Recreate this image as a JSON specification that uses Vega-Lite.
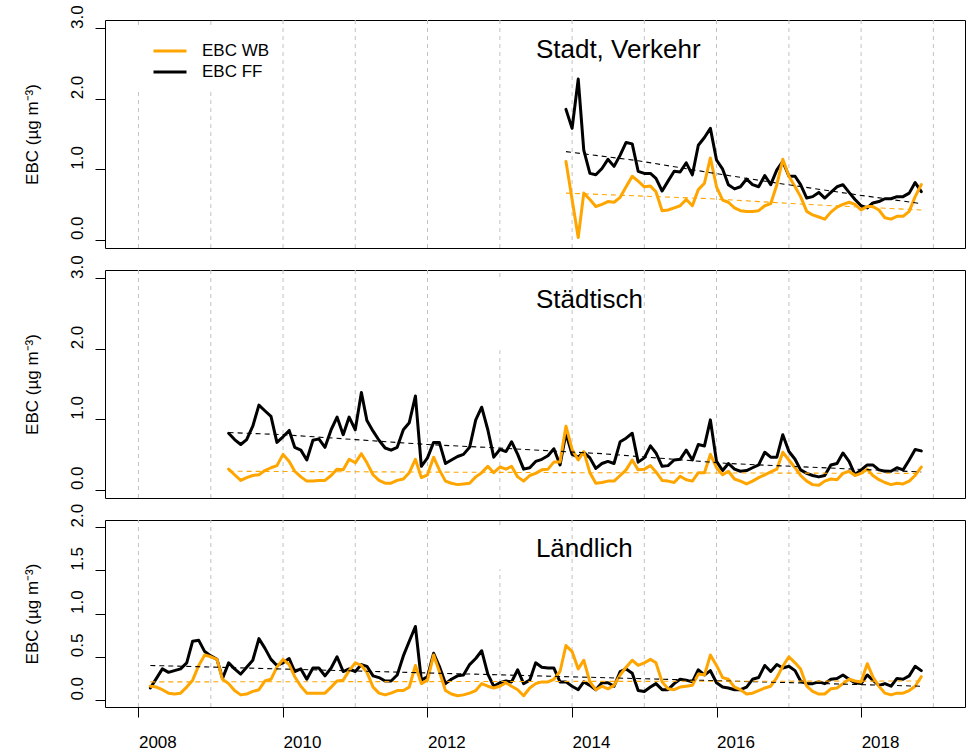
{
  "$schema": "https://vega.github.io/schema/vega-lite/v6.json",
  "background": "white",
  "padding": {"left": 22, "top": 4, "right": 2, "bottom": 2},
  "spacing": 22,
  "bounds": "flush",
  "config": {
    "font": "Liberation Sans",
    "view": {"stroke": "black", "strokeWidth": 1},
    "axis": {
      "grid": false,
      "domain": false,
      "tickColor": "black",
      "tickSize": 10,
      "tickWidth": 1,
      "labelFont": "Liberation Sans",
      "labelFontSize": 17,
      "labelColor": "black",
      "labelOverlap": false,
      "labelFlush": false,
      "titleFont": "Liberation Sans",
      "titleFontSize": 17,
      "titleFontWeight": "normal",
      "titleColor": "black"
    },
    "axisY": {
      "labelAngle": 270,
      "labelAlign": "left",
      "labelBaseline": "alphabetic",
      "labelPadding": 13,
      "titlePadding": 27
    },
    "axisX": {
      "labelAngle": 0,
      "labelAlign": "left",
      "labelBaseline": "alphabetic",
      "labelPadding": 30
    }
  },
  "datasets": {
    "p1": [
      {"t":"2013-12","ff":1.85,"wb":1.11},
      {"t":"2014-01","ff":1.58,"wb":0.57},
      {"t":"2014-02","ff":2.28,"wb":0.03},
      {"t":"2014-03","ff":1.27,"wb":0.66},
      {"t":"2014-04","ff":0.94,"wb":0.57},
      {"t":"2014-05","ff":0.92,"wb":0.47},
      {"t":"2014-06","ff":1.01,"wb":0.50},
      {"t":"2014-07","ff":1.14,"wb":0.54},
      {"t":"2014-08","ff":1.04,"wb":0.53},
      {"t":"2014-09","ff":1.20,"wb":0.60},
      {"t":"2014-10","ff":1.38,"wb":0.75},
      {"t":"2014-11","ff":1.36,"wb":0.90},
      {"t":"2014-12","ff":0.97,"wb":0.83},
      {"t":"2015-01","ff":0.94,"wb":0.75},
      {"t":"2015-02","ff":0.94,"wb":0.76},
      {"t":"2015-03","ff":0.87,"wb":0.68},
      {"t":"2015-04","ff":0.69,"wb":0.41},
      {"t":"2015-05","ff":0.83,"wb":0.42},
      {"t":"2015-06","ff":0.97,"wb":0.45},
      {"t":"2015-07","ff":0.96,"wb":0.48},
      {"t":"2015-08","ff":1.09,"wb":0.57},
      {"t":"2015-09","ff":0.92,"wb":0.48},
      {"t":"2015-10","ff":1.34,"wb":0.71},
      {"t":"2015-11","ff":1.45,"wb":0.80},
      {"t":"2015-12","ff":1.58,"wb":1.16},
      {"t":"2016-01","ff":1.13,"wb":0.75},
      {"t":"2016-02","ff":1.00,"wb":0.56},
      {"t":"2016-03","ff":0.78,"wb":0.53},
      {"t":"2016-04","ff":0.72,"wb":0.45},
      {"t":"2016-05","ff":0.75,"wb":0.41},
      {"t":"2016-06","ff":0.86,"wb":0.40},
      {"t":"2016-07","ff":0.78,"wb":0.40},
      {"t":"2016-08","ff":0.75,"wb":0.41},
      {"t":"2016-09","ff":0.91,"wb":0.48},
      {"t":"2016-10","ff":0.78,"wb":0.51},
      {"t":"2016-11","ff":0.99,"wb":0.78},
      {"t":"2016-12","ff":1.11,"wb":1.14},
      {"t":"2017-01","ff":0.90,"wb":0.90},
      {"t":"2017-02","ff":0.90,"wb":0.75},
      {"t":"2017-03","ff":0.78,"wb":0.61},
      {"t":"2017-04","ff":0.59,"wb":0.40},
      {"t":"2017-05","ff":0.61,"wb":0.35},
      {"t":"2017-06","ff":0.67,"wb":0.32},
      {"t":"2017-07","ff":0.59,"wb":0.29},
      {"t":"2017-08","ff":0.67,"wb":0.39},
      {"t":"2017-09","ff":0.75,"wb":0.46},
      {"t":"2017-10","ff":0.78,"wb":0.50},
      {"t":"2017-11","ff":0.67,"wb":0.53},
      {"t":"2017-12","ff":0.57,"wb":0.50},
      {"t":"2018-01","ff":0.48,"wb":0.42},
      {"t":"2018-02","ff":0.45,"wb":0.47},
      {"t":"2018-03","ff":0.52,"wb":0.47},
      {"t":"2018-04","ff":0.54,"wb":0.42},
      {"t":"2018-05","ff":0.58,"wb":0.31},
      {"t":"2018-06","ff":0.58,"wb":0.29},
      {"t":"2018-07","ff":0.61,"wb":0.33},
      {"t":"2018-08","ff":0.61,"wb":0.33},
      {"t":"2018-09","ff":0.66,"wb":0.40},
      {"t":"2018-10","ff":0.81,"wb":0.61},
      {"t":"2018-11","ff":0.68,"wb":0.78}
    ],
    "p2": [
      {"t":"2009-04","ff":0.80,"wb":0.29},
      {"t":"2009-05","ff":0.71,"wb":0.21},
      {"t":"2009-06","ff":0.64,"wb":0.13},
      {"t":"2009-07","ff":0.71,"wb":0.17},
      {"t":"2009-08","ff":0.90,"wb":0.20},
      {"t":"2009-09","ff":1.20,"wb":0.21},
      {"t":"2009-10","ff":1.12,"wb":0.27},
      {"t":"2009-11","ff":1.04,"wb":0.31},
      {"t":"2009-12","ff":0.67,"wb":0.34},
      {"t":"2010-01","ff":0.75,"wb":0.50},
      {"t":"2010-02","ff":0.84,"wb":0.40},
      {"t":"2010-03","ff":0.60,"wb":0.26},
      {"t":"2010-04","ff":0.56,"wb":0.18},
      {"t":"2010-05","ff":0.42,"wb":0.12},
      {"t":"2010-06","ff":0.70,"wb":0.12},
      {"t":"2010-07","ff":0.72,"wb":0.13},
      {"t":"2010-08","ff":0.60,"wb":0.13},
      {"t":"2010-09","ff":0.85,"wb":0.20},
      {"t":"2010-10","ff":1.03,"wb":0.29},
      {"t":"2010-11","ff":0.78,"wb":0.28},
      {"t":"2010-12","ff":1.03,"wb":0.43},
      {"t":"2011-01","ff":0.85,"wb":0.38},
      {"t":"2011-02","ff":1.38,"wb":0.51},
      {"t":"2011-03","ff":0.98,"wb":0.38},
      {"t":"2011-04","ff":0.83,"wb":0.21},
      {"t":"2011-05","ff":0.70,"wb":0.13},
      {"t":"2011-06","ff":0.59,"wb":0.09},
      {"t":"2011-07","ff":0.56,"wb":0.09},
      {"t":"2011-08","ff":0.60,"wb":0.13},
      {"t":"2011-09","ff":0.85,"wb":0.15},
      {"t":"2011-10","ff":0.95,"wb":0.24},
      {"t":"2011-11","ff":1.33,"wb":0.43},
      {"t":"2011-12","ff":0.33,"wb":0.17},
      {"t":"2012-01","ff":0.45,"wb":0.21},
      {"t":"2012-02","ff":0.67,"wb":0.46},
      {"t":"2012-03","ff":0.67,"wb":0.28},
      {"t":"2012-04","ff":0.37,"wb":0.12},
      {"t":"2012-05","ff":0.42,"wb":0.09},
      {"t":"2012-06","ff":0.47,"wb":0.07},
      {"t":"2012-07","ff":0.50,"wb":0.08},
      {"t":"2012-08","ff":0.60,"wb":0.09},
      {"t":"2012-09","ff":0.99,"wb":0.18},
      {"t":"2012-10","ff":1.17,"wb":0.24},
      {"t":"2012-11","ff":0.85,"wb":0.33},
      {"t":"2012-12","ff":0.46,"wb":0.24},
      {"t":"2013-01","ff":0.57,"wb":0.32},
      {"t":"2013-02","ff":0.54,"wb":0.29},
      {"t":"2013-03","ff":0.68,"wb":0.33},
      {"t":"2013-04","ff":0.50,"wb":0.18},
      {"t":"2013-05","ff":0.29,"wb":0.12},
      {"t":"2013-06","ff":0.31,"wb":0.20},
      {"t":"2013-07","ff":0.40,"wb":0.23},
      {"t":"2013-08","ff":0.43,"wb":0.28},
      {"t":"2013-09","ff":0.48,"wb":0.29},
      {"t":"2013-10","ff":0.58,"wb":0.39},
      {"t":"2013-11","ff":0.35,"wb":0.39},
      {"t":"2013-12","ff":0.80,"wb":0.90},
      {"t":"2014-01","ff":0.50,"wb":0.57},
      {"t":"2014-02","ff":0.46,"wb":0.42},
      {"t":"2014-03","ff":0.53,"wb":0.54},
      {"t":"2014-04","ff":0.45,"wb":0.24},
      {"t":"2014-05","ff":0.30,"wb":0.09},
      {"t":"2014-06","ff":0.37,"wb":0.10},
      {"t":"2014-07","ff":0.40,"wb":0.12},
      {"t":"2014-08","ff":0.37,"wb":0.12},
      {"t":"2014-09","ff":0.68,"wb":0.20},
      {"t":"2014-10","ff":0.73,"wb":0.28},
      {"t":"2014-11","ff":0.80,"wb":0.42},
      {"t":"2014-12","ff":0.39,"wb":0.28},
      {"t":"2015-01","ff":0.45,"wb":0.29},
      {"t":"2015-02","ff":0.62,"wb":0.34},
      {"t":"2015-03","ff":0.52,"wb":0.25},
      {"t":"2015-04","ff":0.33,"wb":0.13},
      {"t":"2015-05","ff":0.34,"wb":0.12},
      {"t":"2015-06","ff":0.42,"wb":0.10},
      {"t":"2015-07","ff":0.43,"wb":0.19},
      {"t":"2015-08","ff":0.56,"wb":0.14},
      {"t":"2015-09","ff":0.42,"wb":0.12},
      {"t":"2015-10","ff":0.64,"wb":0.24},
      {"t":"2015-11","ff":0.62,"wb":0.24},
      {"t":"2015-12","ff":0.99,"wb":0.50},
      {"t":"2016-01","ff":0.40,"wb":0.31},
      {"t":"2016-02","ff":0.27,"wb":0.21},
      {"t":"2016-03","ff":0.37,"wb":0.26},
      {"t":"2016-04","ff":0.29,"wb":0.15},
      {"t":"2016-05","ff":0.26,"wb":0.12},
      {"t":"2016-06","ff":0.27,"wb":0.08},
      {"t":"2016-07","ff":0.31,"wb":0.12},
      {"t":"2016-08","ff":0.35,"wb":0.17},
      {"t":"2016-09","ff":0.53,"wb":0.21},
      {"t":"2016-10","ff":0.46,"wb":0.25},
      {"t":"2016-11","ff":0.46,"wb":0.29},
      {"t":"2016-12","ff":0.78,"wb":0.53},
      {"t":"2017-01","ff":0.54,"wb":0.42},
      {"t":"2017-02","ff":0.43,"wb":0.31},
      {"t":"2017-03","ff":0.28,"wb":0.20},
      {"t":"2017-04","ff":0.23,"wb":0.12},
      {"t":"2017-05","ff":0.20,"wb":0.07},
      {"t":"2017-06","ff":0.18,"wb":0.06},
      {"t":"2017-07","ff":0.20,"wb":0.12},
      {"t":"2017-08","ff":0.35,"wb":0.15},
      {"t":"2017-09","ff":0.37,"wb":0.14},
      {"t":"2017-10","ff":0.52,"wb":0.23},
      {"t":"2017-11","ff":0.40,"wb":0.26},
      {"t":"2017-12","ff":0.21,"wb":0.20},
      {"t":"2018-01","ff":0.28,"wb":0.23},
      {"t":"2018-02","ff":0.35,"wb":0.29},
      {"t":"2018-03","ff":0.35,"wb":0.20},
      {"t":"2018-04","ff":0.28,"wb":0.14},
      {"t":"2018-05","ff":0.26,"wb":0.10},
      {"t":"2018-06","ff":0.26,"wb":0.07},
      {"t":"2018-07","ff":0.31,"wb":0.09},
      {"t":"2018-08","ff":0.28,"wb":0.08},
      {"t":"2018-09","ff":0.42,"wb":0.12},
      {"t":"2018-10","ff":0.57,"wb":0.20},
      {"t":"2018-11","ff":0.55,"wb":0.32}
    ],
    "p3": [
      {"t":"2008-03","ff":0.14,"wb":0.16},
      {"t":"2008-04","ff":0.25,"wb":0.15},
      {"t":"2008-05","ff":0.36,"wb":0.12},
      {"t":"2008-06","ff":0.32,"wb":0.08},
      {"t":"2008-07","ff":0.34,"wb":0.07},
      {"t":"2008-08","ff":0.36,"wb":0.08},
      {"t":"2008-09","ff":0.43,"wb":0.15},
      {"t":"2008-10","ff":0.68,"wb":0.23},
      {"t":"2008-11","ff":0.69,"wb":0.40},
      {"t":"2008-12","ff":0.56,"wb":0.52},
      {"t":"2009-01","ff":0.51,"wb":0.50},
      {"t":"2009-02","ff":0.47,"wb":0.47},
      {"t":"2009-03","ff":0.25,"wb":0.24},
      {"t":"2009-04","ff":0.43,"wb":0.19},
      {"t":"2009-05","ff":0.36,"wb":0.11},
      {"t":"2009-06","ff":0.30,"wb":0.06},
      {"t":"2009-07","ff":0.38,"wb":0.07},
      {"t":"2009-08","ff":0.46,"wb":0.10},
      {"t":"2009-09","ff":0.71,"wb":0.12},
      {"t":"2009-10","ff":0.60,"wb":0.22},
      {"t":"2009-11","ff":0.47,"wb":0.24},
      {"t":"2009-12","ff":0.40,"wb":0.38},
      {"t":"2010-01","ff":0.43,"wb":0.47},
      {"t":"2010-02","ff":0.48,"wb":0.41},
      {"t":"2010-03","ff":0.33,"wb":0.27},
      {"t":"2010-04","ff":0.36,"wb":0.16},
      {"t":"2010-05","ff":0.24,"wb":0.08},
      {"t":"2010-06","ff":0.37,"wb":0.08},
      {"t":"2010-07","ff":0.37,"wb":0.08},
      {"t":"2010-08","ff":0.28,"wb":0.08},
      {"t":"2010-09","ff":0.37,"wb":0.15},
      {"t":"2010-10","ff":0.50,"wb":0.22},
      {"t":"2010-11","ff":0.33,"wb":0.23},
      {"t":"2010-12","ff":0.36,"wb":0.34},
      {"t":"2011-01","ff":0.33,"wb":0.43},
      {"t":"2011-02","ff":0.41,"wb":0.40},
      {"t":"2011-03","ff":0.39,"wb":0.32},
      {"t":"2011-04","ff":0.28,"wb":0.15},
      {"t":"2011-05","ff":0.26,"wb":0.08},
      {"t":"2011-06","ff":0.22,"wb":0.06},
      {"t":"2011-07","ff":0.22,"wb":0.08},
      {"t":"2011-08","ff":0.29,"wb":0.11},
      {"t":"2011-09","ff":0.51,"wb":0.11},
      {"t":"2011-10","ff":0.68,"wb":0.15},
      {"t":"2011-11","ff":0.85,"wb":0.40},
      {"t":"2011-12","ff":0.23,"wb":0.19},
      {"t":"2012-01","ff":0.27,"wb":0.23},
      {"t":"2012-02","ff":0.54,"wb":0.52},
      {"t":"2012-03","ff":0.39,"wb":0.33},
      {"t":"2012-04","ff":0.19,"wb":0.11},
      {"t":"2012-05","ff":0.24,"wb":0.07},
      {"t":"2012-06","ff":0.28,"wb":0.05},
      {"t":"2012-07","ff":0.29,"wb":0.06},
      {"t":"2012-08","ff":0.41,"wb":0.08},
      {"t":"2012-09","ff":0.48,"wb":0.11},
      {"t":"2012-10","ff":0.57,"wb":0.19},
      {"t":"2012-11","ff":0.30,"wb":0.16},
      {"t":"2012-12","ff":0.16,"wb":0.14},
      {"t":"2013-01","ff":0.20,"wb":0.16},
      {"t":"2013-02","ff":0.22,"wb":0.20},
      {"t":"2013-03","ff":0.21,"wb":0.16},
      {"t":"2013-04","ff":0.35,"wb":0.12},
      {"t":"2013-05","ff":0.19,"wb":0.05},
      {"t":"2013-06","ff":0.23,"wb":0.14},
      {"t":"2013-07","ff":0.43,"wb":0.19},
      {"t":"2013-08","ff":0.38,"wb":0.21},
      {"t":"2013-09","ff":0.37,"wb":0.21},
      {"t":"2013-10","ff":0.37,"wb":0.24},
      {"t":"2013-11","ff":0.21,"wb":0.33},
      {"t":"2013-12","ff":0.21,"wb":0.63},
      {"t":"2014-01","ff":0.16,"wb":0.56},
      {"t":"2014-02","ff":0.12,"wb":0.36},
      {"t":"2014-03","ff":0.21,"wb":0.46},
      {"t":"2014-04","ff":0.17,"wb":0.21},
      {"t":"2014-05","ff":0.12,"wb":0.12},
      {"t":"2014-06","ff":0.20,"wb":0.16},
      {"t":"2014-07","ff":0.20,"wb":0.13},
      {"t":"2014-08","ff":0.16,"wb":0.17},
      {"t":"2014-09","ff":0.33,"wb":0.29},
      {"t":"2014-10","ff":0.36,"wb":0.38},
      {"t":"2014-11","ff":0.31,"wb":0.46},
      {"t":"2014-12","ff":0.11,"wb":0.40},
      {"t":"2015-01","ff":0.10,"wb":0.43},
      {"t":"2015-02","ff":0.15,"wb":0.47},
      {"t":"2015-03","ff":0.19,"wb":0.43},
      {"t":"2015-04","ff":0.12,"wb":0.21},
      {"t":"2015-05","ff":0.12,"wb":0.13},
      {"t":"2015-06","ff":0.19,"wb":0.12},
      {"t":"2015-07","ff":0.24,"wb":0.15},
      {"t":"2015-08","ff":0.23,"wb":0.16},
      {"t":"2015-09","ff":0.21,"wb":0.17},
      {"t":"2015-10","ff":0.35,"wb":0.30},
      {"t":"2015-11","ff":0.29,"wb":0.29},
      {"t":"2015-12","ff":0.34,"wb":0.52},
      {"t":"2016-01","ff":0.20,"wb":0.40},
      {"t":"2016-02","ff":0.15,"wb":0.26},
      {"t":"2016-03","ff":0.14,"wb":0.24},
      {"t":"2016-04","ff":0.12,"wb":0.15},
      {"t":"2016-05","ff":0.12,"wb":0.12},
      {"t":"2016-06","ff":0.15,"wb":0.07},
      {"t":"2016-07","ff":0.24,"wb":0.08},
      {"t":"2016-08","ff":0.26,"wb":0.11},
      {"t":"2016-09","ff":0.40,"wb":0.14},
      {"t":"2016-10","ff":0.33,"wb":0.16},
      {"t":"2016-11","ff":0.41,"wb":0.26},
      {"t":"2016-12","ff":0.37,"wb":0.39},
      {"t":"2017-01","ff":0.39,"wb":0.50},
      {"t":"2017-02","ff":0.34,"wb":0.43},
      {"t":"2017-03","ff":0.22,"wb":0.36},
      {"t":"2017-04","ff":0.19,"wb":0.16},
      {"t":"2017-05","ff":0.19,"wb":0.10},
      {"t":"2017-06","ff":0.21,"wb":0.07},
      {"t":"2017-07","ff":0.19,"wb":0.07},
      {"t":"2017-08","ff":0.24,"wb":0.13},
      {"t":"2017-09","ff":0.25,"wb":0.14},
      {"t":"2017-10","ff":0.29,"wb":0.19},
      {"t":"2017-11","ff":0.24,"wb":0.24},
      {"t":"2017-12","ff":0.20,"wb":0.22},
      {"t":"2018-01","ff":0.19,"wb":0.21},
      {"t":"2018-02","ff":0.29,"wb":0.42},
      {"t":"2018-03","ff":0.23,"wb":0.27},
      {"t":"2018-04","ff":0.17,"wb":0.16},
      {"t":"2018-05","ff":0.19,"wb":0.08},
      {"t":"2018-06","ff":0.16,"wb":0.06},
      {"t":"2018-07","ff":0.25,"wb":0.08},
      {"t":"2018-08","ff":0.24,"wb":0.08},
      {"t":"2018-09","ff":0.28,"wb":0.11},
      {"t":"2018-10","ff":0.39,"wb":0.16},
      {"t":"2018-11","ff":0.34,"wb":0.27}
    ],
    "trend": [
      {"p":1,"s":"ff","t":"2013-12","v":1.25},
      {"p":1,"s":"ff","t":"2014-12","v":1.12},
      {"p":1,"s":"ff","t":"2015-12","v":0.95},
      {"p":1,"s":"ff","t":"2016-12","v":0.79},
      {"p":1,"s":"ff","t":"2017-12","v":0.64},
      {"p":1,"s":"ff","t":"2018-11","v":0.51},
      {"p":1,"s":"wb","t":"2013-12","v":0.66},
      {"p":1,"s":"wb","t":"2015-12","v":0.58},
      {"p":1,"s":"wb","t":"2017-06","v":0.49},
      {"p":1,"s":"wb","t":"2018-11","v":0.42},
      {"p":2,"s":"ff","t":"2009-04","v":0.81},
      {"p":2,"s":"ff","t":"2010-01","v":0.78},
      {"p":2,"s":"ff","t":"2011-01","v":0.71},
      {"p":2,"s":"ff","t":"2012-01","v":0.64},
      {"p":2,"s":"ff","t":"2013-01","v":0.59},
      {"p":2,"s":"ff","t":"2014-06","v":0.51},
      {"p":2,"s":"ff","t":"2016-03","v":0.37},
      {"p":2,"s":"ff","t":"2017-12","v":0.29},
      {"p":2,"s":"ff","t":"2018-11","v":0.25},
      {"p":2,"s":"wb","t":"2009-04","v":0.26},
      {"p":2,"s":"wb","t":"2014-01","v":0.24},
      {"p":2,"s":"wb","t":"2018-11","v":0.23},
      {"p":3,"s":"ff","t":"2008-03","v":0.40},
      {"p":3,"s":"ff","t":"2018-11","v":0.16},
      {"p":3,"s":"wb","t":"2008-03","v":0.21},
      {"p":3,"s":"wb","t":"2018-11","v":0.22}
    ],
    "grid": [
      {"p":1,"t":"2008-01","lo":-0.12,"hi":2.13},
      {"p":1,"t":"2008-01","lo":3.05,"hi":3.12},
      {"p":1,"t":"2009-01","lo":-0.12,"hi":2.13},
      {"p":1,"t":"2009-01","lo":3.05,"hi":3.12},
      {"p":1,"t":"2010-01","lo":-0.12,"hi":3.12},
      {"p":1,"t":"2011-01","lo":-0.12,"hi":3.12},
      {"p":1,"t":"2012-01","lo":-0.12,"hi":3.12},
      {"p":1,"t":"2013-01","lo":-0.12,"hi":3.12},
      {"p":1,"t":"2014-01","lo":-0.12,"hi":3.12},
      {"p":1,"t":"2015-01","lo":-0.12,"hi":3.12},
      {"p":1,"t":"2016-01","lo":-0.12,"hi":3.12},
      {"p":1,"t":"2017-01","lo":-0.12,"hi":3.12},
      {"p":1,"t":"2018-01","lo":-0.12,"hi":3.12},
      {"p":1,"t":"2019-01","lo":-0.12,"hi":3.12},
      {"p":2,"t":"2008-01","lo":-0.12,"hi":3.12},
      {"p":2,"t":"2009-01","lo":-0.12,"hi":3.12},
      {"p":2,"t":"2010-01","lo":-0.12,"hi":3.12},
      {"p":2,"t":"2011-01","lo":-0.12,"hi":3.12},
      {"p":2,"t":"2012-01","lo":-0.12,"hi":3.12},
      {"p":2,"t":"2013-01","lo":-0.12,"hi":1.98},
      {"p":2,"t":"2013-01","lo":3.02,"hi":3.12},
      {"p":2,"t":"2014-01","lo":-0.12,"hi":3.12},
      {"p":2,"t":"2015-01","lo":-0.12,"hi":3.12},
      {"p":2,"t":"2016-01","lo":-0.12,"hi":3.12},
      {"p":2,"t":"2017-01","lo":-0.12,"hi":3.12},
      {"p":2,"t":"2018-01","lo":-0.12,"hi":3.12},
      {"p":2,"t":"2019-01","lo":-0.12,"hi":3.12},
      {"p":3,"t":"2008-01","lo":-0.08,"hi":2.08},
      {"p":3,"t":"2009-01","lo":-0.08,"hi":2.08},
      {"p":3,"t":"2010-01","lo":-0.08,"hi":2.08},
      {"p":3,"t":"2011-01","lo":-0.08,"hi":2.08},
      {"p":3,"t":"2012-01","lo":-0.08,"hi":2.08},
      {"p":3,"t":"2013-01","lo":-0.08,"hi":1.51},
      {"p":3,"t":"2013-01","lo":2.02,"hi":2.08},
      {"p":3,"t":"2014-01","lo":-0.08,"hi":2.08},
      {"p":3,"t":"2015-01","lo":-0.08,"hi":2.08},
      {"p":3,"t":"2016-01","lo":-0.08,"hi":2.08},
      {"p":3,"t":"2017-01","lo":-0.08,"hi":2.08},
      {"p":3,"t":"2018-01","lo":-0.08,"hi":2.08},
      {"p":3,"t":"2019-01","lo":-0.08,"hi":2.08}
    ],
    "titles": [
      {"p":1,"name":"Stadt, Verkehr"},
      {"p":2,"name":"Städtisch"},
      {"p":3,"name":"Ländlich"}
    ]
  },
  "resolve": {"scale": {"color": "independent"}, "legend": {"color": "independent"}},
  "vconcat": [
    {
      "width": 860,
      "height": 228,
      "layer": [
        {
          "data": {"name": "grid"},
          "transform": [{"filter": "datum.p === 1"}],
          "mark": {"type": "rule", "color": "#c2c2c2", "strokeWidth": 1, "strokeDash": [4, 4]},
          "encoding": {
            "x": {"field": "t", "type": "temporal", "scale": {"type": "utc", "domain": [{"year": 2007, "month": 7, "date": 16, "utc": true}, {"year": 2019, "month": 6, "date": 10, "utc": true}]}, "axis": null},
            "y": {"field": "lo", "type": "quantitative", "scale": {"domain": [-0.12, 3.12], "nice": false, "zero": false},
                  "axis": {"values": [0, 0.5, 1, 1.5, 2, 2.5, 3], "labelExpr": "datum.value % 1 === 0 ? format(datum.value, '.1f') : ''", "title": "EBC (µg m⁻³)"}},
            "y2": {"field": "hi"}
          }
        },
        {
          "data": {"name": "p1"},
          "mark": {"type": "line", "strokeWidth": 3, "strokeJoin": "round", "strokeCap": "round"},
          "encoding": {
            "x": {"field": "t", "type": "temporal", "axis": null},
            "y": {"field": "ff", "type": "quantitative"},
            "color": {"datum": "EBC FF", "scale": {"domain": ["EBC WB", "EBC FF"], "range": ["#FFA500", "#000000"]},
                      "legend": {"orient": "none", "legendX": 47, "legendY": 20.5, "title": null, "symbolType": "stroke", "symbolSize": 1089, "symbolStrokeWidth": 3, "labelFontSize": 17, "labelFont": "Liberation Sans", "labelColor": "black", "labelOffset": 14, "clipHeight": 21, "rowPadding": 0, "padding": 0}}
          }
        },
        {
          "data": {"name": "p1"},
          "mark": {"type": "line", "strokeWidth": 3, "strokeJoin": "round", "strokeCap": "round"},
          "encoding": {
            "x": {"field": "t", "type": "temporal", "axis": null},
            "y": {"field": "wb", "type": "quantitative"},
            "color": {"datum": "EBC WB"}
          }
        },
        {
          "data": {"name": "trend"},
          "transform": [{"filter": "datum.p === 1 && datum.s === 'ff'"}],
          "mark": {"type": "line", "color": "black", "strokeWidth": 1.1, "strokeDash": [5, 4]},
          "encoding": {
            "x": {"field": "t", "type": "temporal", "axis": null},
            "y": {"field": "v", "type": "quantitative"}
          }
        },
        {
          "data": {"name": "trend"},
          "transform": [{"filter": "datum.p === 1 && datum.s === 'wb'"}],
          "mark": {"type": "line", "color": "#FFA500", "strokeWidth": 1.1, "strokeDash": [5, 4]},
          "encoding": {
            "x": {"field": "t", "type": "temporal", "axis": null},
            "y": {"field": "v", "type": "quantitative"}
          }
        },
        {
          "data": {"name": "titles"},
          "transform": [{"filter": "datum.p === 1"}],
          "mark": {"type": "text", "align": "left", "baseline": "middle", "fontSize": 26, "font": "Liberation Sans", "color": "black"},
          "encoding": {
            "x": {"datum": {"year": 2013, "month": 7, "date": 2, "utc": true}, "type": "temporal", "axis": null},
            "y": {"datum": 2.7, "type": "quantitative"},
            "text": {"field": "name"}
          }
        }
      ]
    },
    {
      "width": 860,
      "height": 228,
      "layer": [
        {
          "data": {"name": "grid"},
          "transform": [{"filter": "datum.p === 2"}],
          "mark": {"type": "rule", "color": "#c2c2c2", "strokeWidth": 1, "strokeDash": [4, 4]},
          "encoding": {
            "x": {"field": "t", "type": "temporal", "scale": {"type": "utc", "domain": [{"year": 2007, "month": 7, "date": 16, "utc": true}, {"year": 2019, "month": 6, "date": 10, "utc": true}]}, "axis": null},
            "y": {"field": "lo", "type": "quantitative", "scale": {"domain": [-0.12, 3.12], "nice": false, "zero": false},
                  "axis": {"values": [0, 0.5, 1, 1.5, 2, 2.5, 3], "labelExpr": "datum.value % 1 === 0 ? format(datum.value, '.1f') : ''", "title": "EBC (µg m⁻³)"}},
            "y2": {"field": "hi"}
          }
        },
        {
          "data": {"name": "p2"},
          "mark": {"type": "line", "strokeWidth": 3, "strokeJoin": "round", "strokeCap": "round"},
          "encoding": {
            "x": {"field": "t", "type": "temporal", "axis": null},
            "y": {"field": "ff", "type": "quantitative"},
            "color": {"datum": "EBC FF", "scale": {"domain": ["EBC WB", "EBC FF"], "range": ["#FFA500", "#000000"]}, "legend": null}
          }
        },
        {
          "data": {"name": "p2"},
          "mark": {"type": "line", "strokeWidth": 3, "strokeJoin": "round", "strokeCap": "round"},
          "encoding": {
            "x": {"field": "t", "type": "temporal", "axis": null},
            "y": {"field": "wb", "type": "quantitative"},
            "color": {"datum": "EBC WB", "legend": null}
          }
        },
        {
          "data": {"name": "trend"},
          "transform": [{"filter": "datum.p === 2 && datum.s === 'ff'"}],
          "mark": {"type": "line", "color": "black", "strokeWidth": 1.1, "strokeDash": [5, 4]},
          "encoding": {
            "x": {"field": "t", "type": "temporal", "axis": null},
            "y": {"field": "v", "type": "quantitative"}
          }
        },
        {
          "data": {"name": "trend"},
          "transform": [{"filter": "datum.p === 2 && datum.s === 'wb'"}],
          "mark": {"type": "line", "color": "#FFA500", "strokeWidth": 1.1, "strokeDash": [5, 4]},
          "encoding": {
            "x": {"field": "t", "type": "temporal", "axis": null},
            "y": {"field": "v", "type": "quantitative"}
          }
        },
        {
          "data": {"name": "titles"},
          "transform": [{"filter": "datum.p === 2"}],
          "mark": {"type": "text", "align": "left", "baseline": "middle", "fontSize": 26, "font": "Liberation Sans", "color": "black"},
          "encoding": {
            "x": {"datum": {"year": 2013, "month": 7, "date": 2, "utc": true}, "type": "temporal", "axis": null},
            "y": {"datum": 2.7, "type": "quantitative"},
            "text": {"field": "name"}
          }
        }
      ]
    },
    {
      "width": 860,
      "height": 187,
      "layer": [
        {
          "data": {"name": "grid"},
          "transform": [{"filter": "datum.p === 3"}],
          "mark": {"type": "rule", "color": "#c2c2c2", "strokeWidth": 1, "strokeDash": [4, 4]},
          "encoding": {
            "x": {"field": "t", "type": "temporal", "scale": {"type": "utc", "domain": [{"year": 2007, "month": 7, "date": 16, "utc": true}, {"year": 2019, "month": 6, "date": 10, "utc": true}]},
                  "axis": {"values": [{"year": 2008, "utc": true}, {"year": 2010, "utc": true}, {"year": 2012, "utc": true}, {"year": 2014, "utc": true}, {"year": 2016, "utc": true}, {"year": 2018, "utc": true}], "format": "%Y", "title": null}},
            "y": {"field": "lo", "type": "quantitative", "scale": {"domain": [-0.08, 2.08], "nice": false, "zero": false},
                  "axis": {"values": [0, 0.5, 1, 1.5, 2], "format": ".1f", "title": "EBC (µg m⁻³)"}},
            "y2": {"field": "hi"}
          }
        },
        {
          "data": {"name": "p3"},
          "mark": {"type": "line", "strokeWidth": 3, "strokeJoin": "round", "strokeCap": "round"},
          "encoding": {
            "x": {"field": "t", "type": "temporal"},
            "y": {"field": "ff", "type": "quantitative"},
            "color": {"datum": "EBC FF", "scale": {"domain": ["EBC WB", "EBC FF"], "range": ["#FFA500", "#000000"]}, "legend": null}
          }
        },
        {
          "data": {"name": "p3"},
          "mark": {"type": "line", "strokeWidth": 3, "strokeJoin": "round", "strokeCap": "round"},
          "encoding": {
            "x": {"field": "t", "type": "temporal"},
            "y": {"field": "wb", "type": "quantitative"},
            "color": {"datum": "EBC WB", "legend": null}
          }
        },
        {
          "data": {"name": "trend"},
          "transform": [{"filter": "datum.p === 3 && datum.s === 'ff'"}],
          "mark": {"type": "line", "color": "black", "strokeWidth": 1.1, "strokeDash": [5, 4]},
          "encoding": {
            "x": {"field": "t", "type": "temporal"},
            "y": {"field": "v", "type": "quantitative"}
          }
        },
        {
          "data": {"name": "trend"},
          "transform": [{"filter": "datum.p === 3 && datum.s === 'wb'"}],
          "mark": {"type": "line", "color": "#FFA500", "strokeWidth": 1.1, "strokeDash": [5, 4]},
          "encoding": {
            "x": {"field": "t", "type": "temporal"},
            "y": {"field": "v", "type": "quantitative"}
          }
        },
        {
          "data": {"name": "titles"},
          "transform": [{"filter": "datum.p === 3"}],
          "mark": {"type": "text", "align": "left", "baseline": "middle", "fontSize": 26, "font": "Liberation Sans", "color": "black"},
          "encoding": {
            "x": {"datum": {"year": 2013, "month": 7, "date": 2, "utc": true}, "type": "temporal"},
            "y": {"datum": 1.75, "type": "quantitative"},
            "text": {"field": "name"}
          }
        }
      ]
    }
  ]
}
